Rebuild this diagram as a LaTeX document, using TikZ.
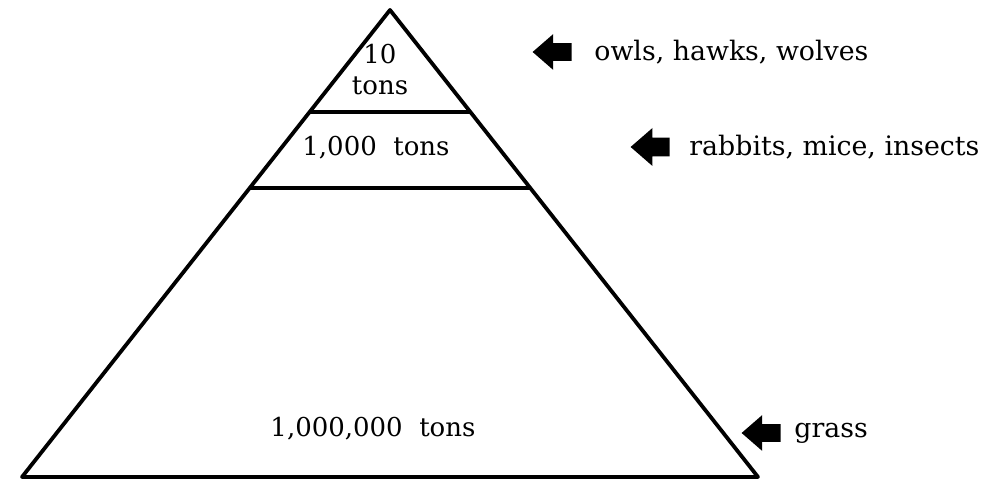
\documentclass[tikz,border=0pt]{standalone}
\usepackage{fontspec}
\setmainfont{DejaVu Serif}
\usetikzlibrary{calc, positioning, shapes.arrows}

\begin{document}
\begin{tikzpicture}[
  x=0.5pt, y=0.5pt,
  edge/.style={draw=black, line width=1.9pt, line join=round},
  level/.style={font=\fontsize{13pt}{15.5pt}\selectfont, align=center, inner sep=0pt},
  pointer/.style={single arrow, shape border rotate=180, fill=black, draw=none,
    inner xsep=0pt, inner ysep=4.25pt, minimum height=19.5pt, minimum width=17.5pt,
    single arrow head extend=4.5pt, single arrow tip angle=82, anchor=tip},
  eats/.style={font=\fontsize{13.4pt}{16pt}\selectfont, inner sep=0pt, anchor=west},
]

\useasboundingbox (0,0) rectangle (1003,480);

% Pyramid corners
\coordinate (apex) at (390,470);
\coordinate (bl) at (22,3);
\coordinate (br) at (758,3);

% Cut lines between the levels
\coordinate (c1l) at ($(apex)!0.218!(bl)$);
\coordinate (c1r) at ($(apex)!0.218!(br)$);
\coordinate (c2l) at ($(apex)!0.381!(bl)$);
\coordinate (c2r) at ($(apex)!0.381!(br)$);

\draw[edge] (bl) -- (apex) -- (br) -- cycle;
\draw[edge] (c1l) -- (c1r);
\draw[edge] (c2l) -- (c2r);

% Masses
\node[level] (top) at (380,410) {10\\tons};
\node[level] (mid) at (376,332) {1,000\ \ tons};
\node[level] (base) at (373,51) {1,000,000\ \ tons};

% Pointers and what lives there
\node[pointer] (a1) at (532,428) {};
\node[eats, right=11pt of a1.east] (l1) {owls, hawks, wolves};

\node[pointer, minimum width=19pt] (a2) at (630,333) {};
\node[eats, right=9.5pt of a2.east] (l2) {rabbits, mice, insects};

\node[pointer] (a3) at (741,47) {};
\node[eats, right=6.5pt of a3.east] (l3) {grass};

\end{tikzpicture}
\end{document}
